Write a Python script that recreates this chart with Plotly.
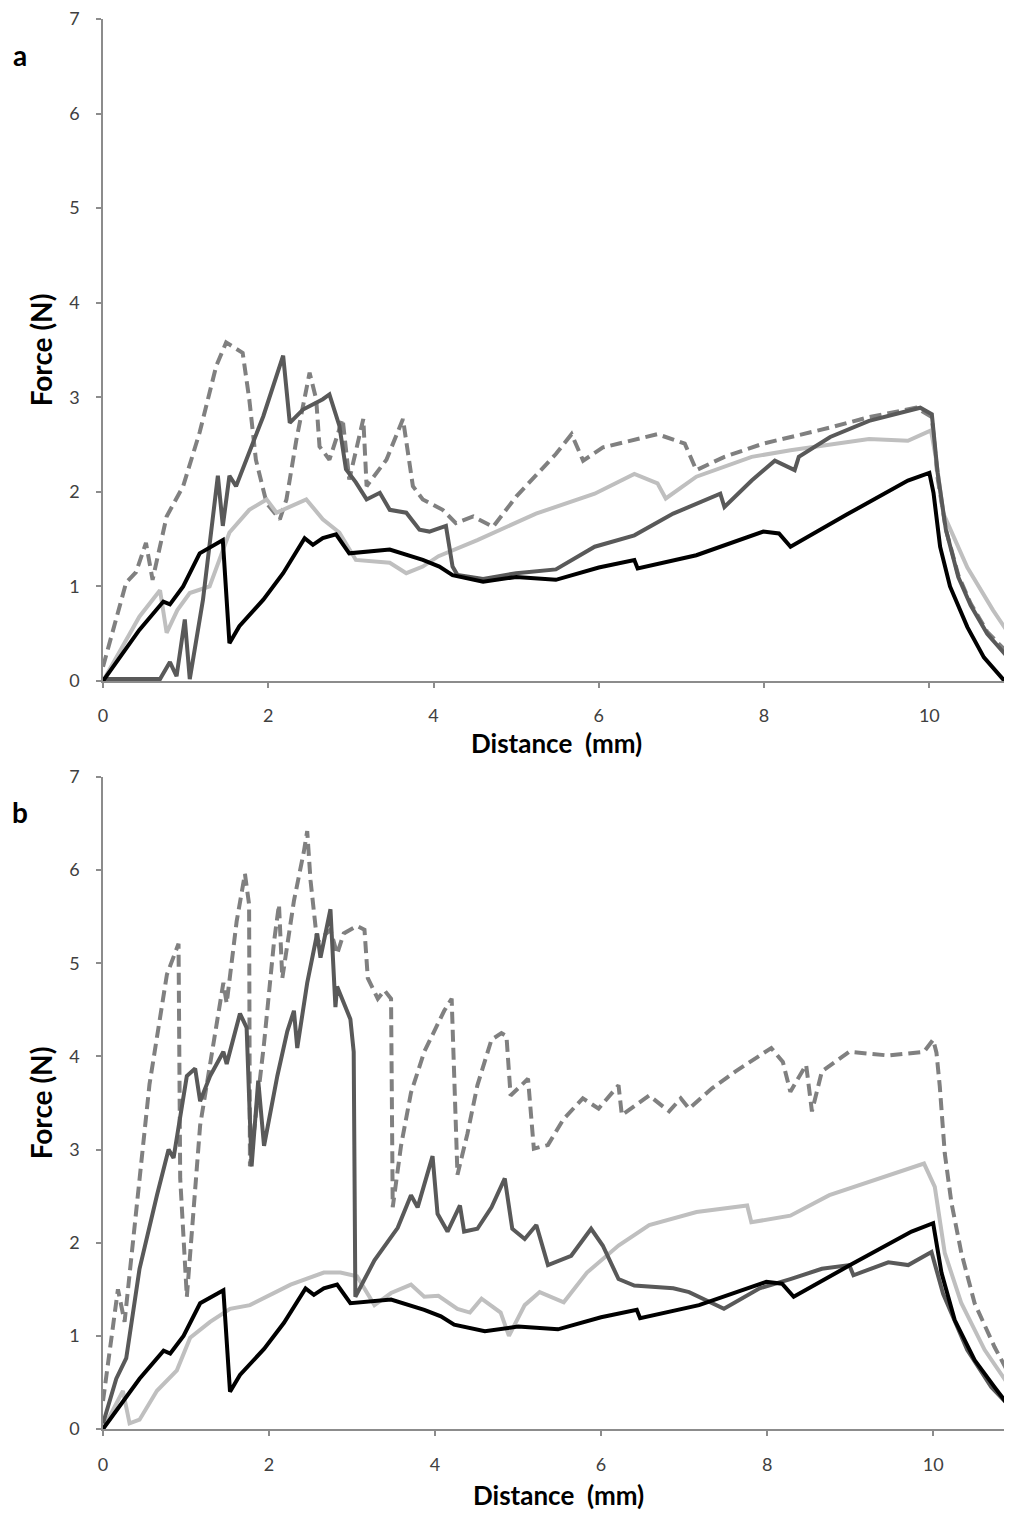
import plotly.graph_objects as go

# ---------------- Panel a ----------------
a_black_x = [0, 0.24, 0.44, 0.73, 0.81, 0.97, 1.17, 1.45, 1.53, 1.65, 1.94, 2.18, 2.44, 2.54, 2.66, 2.82, 2.98,
             3.47, 3.87, 4.07, 4.23, 4.6, 5.0, 5.48, 6.0, 6.43, 6.47, 7.18, 7.99, 8.18, 8.32, 9.0, 9.74, 10.0,
             10.05, 10.13, 10.25, 10.46, 10.66, 10.9, 11.0]
a_black_y = [0, 0.29, 0.54, 0.84, 0.81, 1.0, 1.35, 1.49, 0.40, 0.58, 0.86, 1.14, 1.51, 1.44, 1.51, 1.55, 1.35,
             1.39, 1.28, 1.21, 1.12, 1.05, 1.1, 1.07, 1.2, 1.28, 1.19, 1.33, 1.58, 1.56, 1.42, 1.76, 2.12, 2.2,
             1.99, 1.42, 1.0, 0.57, 0.25, 0.01, 0.01]

a_dark_x = [0, 0.69, 0.81, 0.89, 0.99, 1.05, 1.21, 1.39, 1.45, 1.53, 1.61, 1.77, 1.94, 2.18, 2.26, 2.42, 2.66,
            2.74, 2.86, 2.94, 3.06, 3.19, 3.35, 3.47, 3.67, 3.83, 3.95, 4.15, 4.23, 4.29, 4.6, 5.0, 5.48, 5.95,
            6.43, 6.9, 7.47, 7.52, 7.85, 8.13, 8.37, 8.42, 8.8, 9.27, 9.74, 9.89, 10.03,
            10.1, 10.2, 10.35, 10.5, 10.7, 11.0]
a_dark_y = [0.02, 0.02, 0.2, 0.05, 0.65, 0.02, 0.86, 2.17, 1.64, 2.17, 2.06, 2.41, 2.8, 3.44, 2.73, 2.87, 2.98,
            3.03, 2.7, 2.24, 2.10, 1.92, 1.99, 1.81, 1.78, 1.6, 1.58, 1.64, 1.21, 1.12, 1.08, 1.14, 1.18, 1.42,
            1.54, 1.77, 1.98, 1.84, 2.12, 2.33, 2.23, 2.37, 2.58, 2.75, 2.86, 2.89, 2.82,
            2.2, 1.6, 1.1, 0.8, 0.5, 0.2]

a_dash_x = [0, 0.28, 0.4, 0.52, 0.6, 0.77, 0.97, 1.17, 1.37, 1.49, 1.69, 1.77, 1.85, 1.98, 2.14, 2.22, 2.34,
            2.5, 2.58, 2.62, 2.74, 2.9, 2.98, 3.15, 3.19, 3.43, 3.63, 3.75, 3.87, 4.11, 4.27, 4.48, 4.72, 5.0,
            5.48, 5.67, 5.81, 6.05, 6.71, 7.04, 7.18, 7.52, 7.99, 8.8, 9.27, 9.84, 10.03,
            10.1, 10.2, 10.35, 10.5, 10.7, 11.0]
a_dash_y = [0.15, 1.04, 1.15, 1.46, 1.07, 1.74, 2.06, 2.63, 3.33, 3.58, 3.47, 2.98, 2.34, 1.88, 1.71, 1.92, 2.55,
            3.26, 2.98, 2.48, 2.34, 2.77, 2.13, 2.77, 2.06, 2.34, 2.77, 2.06, 1.92, 1.81, 1.67, 1.74, 1.63, 1.95,
            2.4, 2.61, 2.33, 2.47, 2.61, 2.51, 2.23, 2.37, 2.51, 2.68, 2.79, 2.89, 2.79,
            2.15, 1.6, 1.12, 0.82, 0.52, 0.25]

a_light_x = [0, 0.44, 0.69, 0.77, 0.9, 1.05, 1.29, 1.53, 1.77, 1.98, 2.1, 2.46, 2.66, 2.86, 3.06, 3.47, 3.67,
             3.87, 4.06, 4.53, 5.24, 5.95, 6.43, 6.71, 6.81, 7.18, 7.85, 8.32, 9.27, 9.74, 10.02,
             10.08, 10.17, 10.46, 10.77, 11.0]
a_light_y = [0, 0.68, 0.96, 0.51, 0.75, 0.93, 1.0, 1.57, 1.81, 1.92, 1.78, 1.92, 1.71, 1.57, 1.28, 1.25, 1.14,
             1.21, 1.32, 1.49, 1.77, 1.98, 2.19, 2.09, 1.93, 2.16, 2.37, 2.44, 2.56, 2.54, 2.65,
             2.35, 1.77, 1.2, 0.75, 0.45]

# ---------------- Panel b ----------------
b_black_x = [0, 0.24, 0.44, 0.73, 0.81, 0.97, 1.17, 1.45, 1.53, 1.65, 1.94, 2.18, 2.44, 2.54, 2.66, 2.82, 2.98,
             3.47, 3.87, 4.07, 4.23, 4.6, 5.0, 5.48, 6.0, 6.43, 6.47, 7.18, 7.99, 8.18, 8.32, 9.0, 9.74, 10.0,
             10.1, 10.26, 10.5, 10.74, 10.95]
b_black_y = [0, 0.29, 0.54, 0.84, 0.81, 1.0, 1.35, 1.49, 0.40, 0.58, 0.86, 1.14, 1.51, 1.44, 1.51, 1.55, 1.35,
             1.39, 1.28, 1.21, 1.12, 1.05, 1.1, 1.07, 1.2, 1.28, 1.19, 1.33, 1.58, 1.56, 1.42, 1.76, 2.12, 2.21,
             1.68, 1.17, 0.74, 0.45, 0.2]

b_dark_x = [0, 0.16, 0.28, 0.44, 0.65, 0.79, 0.85, 0.93, 1.01, 1.11, 1.17, 1.29, 1.45, 1.49, 1.65, 1.73, 1.79,
            1.87, 1.94, 2.1, 2.22, 2.3, 2.34, 2.46, 2.58, 2.62, 2.74, 2.8, 2.82, 2.98, 3.02, 3.04, 3.27, 3.55,
            3.71, 3.79, 3.97, 4.03, 4.15, 4.3, 4.35, 4.51, 4.68, 4.84, 4.93, 5.08, 5.22, 5.36, 5.64, 5.88, 6.02,
            6.21, 6.4, 6.87, 7.06, 7.48, 7.91, 8.28, 8.66, 8.99, 9.04, 9.46, 9.7, 9.98,
            10.12, 10.41, 10.7, 10.95]
b_dark_y = [0.06, 0.54, 0.76, 1.72, 2.51, 3.0, 2.91, 3.35, 3.79, 3.87, 3.52, 3.79, 4.05, 3.92, 4.46, 4.31, 2.82,
            3.74, 3.04, 3.79, 4.27, 4.49, 4.09, 4.79, 5.32, 5.06, 5.58, 4.53, 4.75, 4.4, 4.05, 1.42, 1.81, 2.16,
            2.51, 2.38, 2.93, 2.31, 2.12, 2.4, 2.12, 2.15, 2.38, 2.69, 2.15, 2.04, 2.19, 1.76, 1.86, 2.15, 1.97,
            1.61, 1.54, 1.51, 1.47, 1.29, 1.51, 1.61, 1.72, 1.76, 1.65, 1.79, 1.76, 1.9,
            1.45, 0.85, 0.45, 0.22]

b_dash_x = [0, 0.18, 0.26, 0.56, 0.77, 0.91, 0.93, 1.01, 1.17, 1.33, 1.45, 1.49, 1.61, 1.71, 1.76, 1.77, 1.94,
            2.06, 2.12, 2.16, 2.3, 2.42, 2.46, 2.5, 2.58, 2.74, 2.82, 2.9, 3.06, 3.15, 3.19, 3.31, 3.39, 3.47,
            3.49, 3.59, 3.71, 3.87, 4.11, 4.2, 4.27, 4.39, 4.51, 4.68, 4.8, 4.86, 4.91, 5.12, 5.19, 5.36, 5.55,
            5.78, 5.97, 6.21, 6.25, 6.58, 6.82, 6.96, 7.06, 7.34, 7.62, 8.05, 8.19, 8.28, 8.47, 8.54, 8.66, 8.99,
            9.46, 9.89, 10.0, 10.04, 10.08, 10.14, 10.22, 10.34, 10.5, 10.74, 10.95]
b_dash_y = [0.3, 1.5, 1.15, 3.7, 4.88, 5.21, 2.69, 1.42, 3.26, 4.14, 4.79, 4.57, 5.45, 5.96, 5.63, 2.82, 4.14,
            5.23, 5.63, 4.84, 5.67, 6.2, 6.42, 5.89, 5.23, 5.36, 5.1, 5.32, 5.4, 5.36, 4.84, 4.62, 4.71, 4.62,
            2.38, 3.04, 3.61, 4.05, 4.49, 4.62, 2.73, 3.17, 3.69, 4.18, 4.25, 4.22, 3.58, 3.76, 3.01, 3.05, 3.33,
            3.55, 3.44, 3.69, 3.37, 3.58, 3.41, 3.55, 3.44, 3.66, 3.84, 4.09, 3.94, 3.62, 3.91, 3.41, 3.84, 4.05,
            4.01, 4.05, 4.18, 4.04, 3.68, 2.96, 2.43, 1.89, 1.35, 0.88, 0.53]

b_light_x = [0, 0.24, 0.32, 0.44, 0.65, 0.89, 1.05, 1.29, 1.53, 1.77, 2.26, 2.66, 2.86, 3.06, 3.27, 3.47, 3.71,
             3.87, 4.04, 4.27, 4.42, 4.56, 4.79, 4.89, 5.08, 5.26, 5.55, 5.83, 6.21, 6.58, 7.15, 7.76, 7.81, 8.28,
             8.75, 9.23, 9.89, 10.02, 10.14, 10.34, 10.62, 10.95]
b_light_y = [0, 0.41, 0.06, 0.1, 0.41, 0.63, 0.98, 1.15, 1.29, 1.33, 1.55, 1.68, 1.68, 1.64, 1.33, 1.46, 1.55,
             1.42, 1.43, 1.29, 1.25, 1.4, 1.25, 1.0, 1.33, 1.47, 1.36, 1.68, 1.97, 2.19, 2.33, 2.4, 2.22, 2.29,
             2.51, 2.65, 2.85, 2.6, 1.89, 1.35, 0.85, 0.42]

x_tickvals = [0, 2, 4, 6, 8, 10]
y_tickvals = [0, 1, 2, 3, 4, 5, 6, 7]

C_BLACK = "#000000"
C_DARK = "#595959"
C_DASH = "#808080"
C_LIGHT = "#bfbfbf"
LW = 4

# page body has an 8px default margin; figure is sized so it fits the 1012x1513 window
OFF = 8
W, H = 1012 - OFF, 1513 - OFF
fig = go.Figure()


def add(x, y, color, xa, ya, dash="solid"):
    fig.add_trace(go.Scatter(x=x, y=y, mode="lines", xaxis=xa, yaxis=ya, showlegend=False,
                             line=dict(color=color, width=LW, dash=dash)))


DASH = "12px,6px"
add(a_dash_x, a_dash_y, C_DASH, "x", "y", DASH)
add(a_light_x, a_light_y, C_LIGHT, "x", "y")
add(a_dark_x, a_dark_y, C_DARK, "x", "y")
add(a_black_x, a_black_y, C_BLACK, "x", "y")

add(b_dash_x, b_dash_y, C_DASH, "x2", "y2", DASH)
add(b_light_x, b_light_y, C_LIGHT, "x2", "y2")
add(b_dark_x, b_dark_y, C_DARK, "x2", "y2")
add(b_black_x, b_black_y, C_BLACK, "x2", "y2")

FONT = "Lato"
tickfont = dict(family=FONT, size=18, color="#404040")
titlefont = dict(family=FONT, size=28, color="#000000", weight="bold")
axcommon = dict(showgrid=False, zeroline=False, showline=True, linecolor="#8c8c8c", linewidth=1.5,
                ticks="outside", ticklen=5, tickcolor="#8c8c8c", tickwidth=1.5, tickfont=tickfont,
                automargin=False, ticklabeloverflow="allow")


def px_x(p):
    return (p - OFF) / W


def px_y(p):
    return (H - (p - OFF)) / H


x0 = px_x(103)
fig.update_layout(
    width=W, height=H,
    margin=dict(l=0, r=0, t=0, b=0, autoexpand=False),
    paper_bgcolor="white", plot_bgcolor="white",
    xaxis=dict(domain=[x0, 1.0], range=[0, 11], tickvals=x_tickvals, anchor="y",
               ticklabelstandoff=13, **axcommon),
    yaxis=dict(domain=[px_y(681), px_y(19)], range=[0, 7], tickvals=y_tickvals, anchor="x",
               ticklabelstandoff=13,
               title=dict(text="Force (N)", font=titlefont, standoff=8), **axcommon),
    xaxis2=dict(domain=[x0, 1.0], range=[0, 10.95], tickvals=x_tickvals, anchor="y2",
                ticklabelstandoff=14, **axcommon),
    yaxis2=dict(domain=[px_y(1429), px_y(777)], range=[0, 7], tickvals=y_tickvals, anchor="x2",
                ticklabelstandoff=13,
                title=dict(text="Force (N)", font=titlefont, standoff=8), **axcommon),
    annotations=[
        dict(text="<b>a</b>", x=px_x(20), y=px_y(55), xref="paper", yref="paper", showarrow=False,
             xanchor="center", yanchor="middle", font=dict(family=FONT, size=28, color="#000")),
        dict(text="<b>b</b>", x=px_x(20), y=px_y(812), xref="paper", yref="paper", showarrow=False,
             xanchor="center", yanchor="middle", font=dict(family=FONT, size=28, color="#000")),
        dict(text="<b>Distance  (mm)</b>", x=px_x(556), y=px_y(743), xref="paper", yref="paper",
             showarrow=False, xanchor="center", yanchor="middle", font=dict(family=FONT, size=26, color="#000")),
        dict(text="<b>Distance  (mm)</b>", x=px_x(558), y=px_y(1495), xref="paper", yref="paper",
             showarrow=False, xanchor="center", yanchor="middle", font=dict(family=FONT, size=26, color="#000")),
    ],
)

fig.write_html("out.html")
